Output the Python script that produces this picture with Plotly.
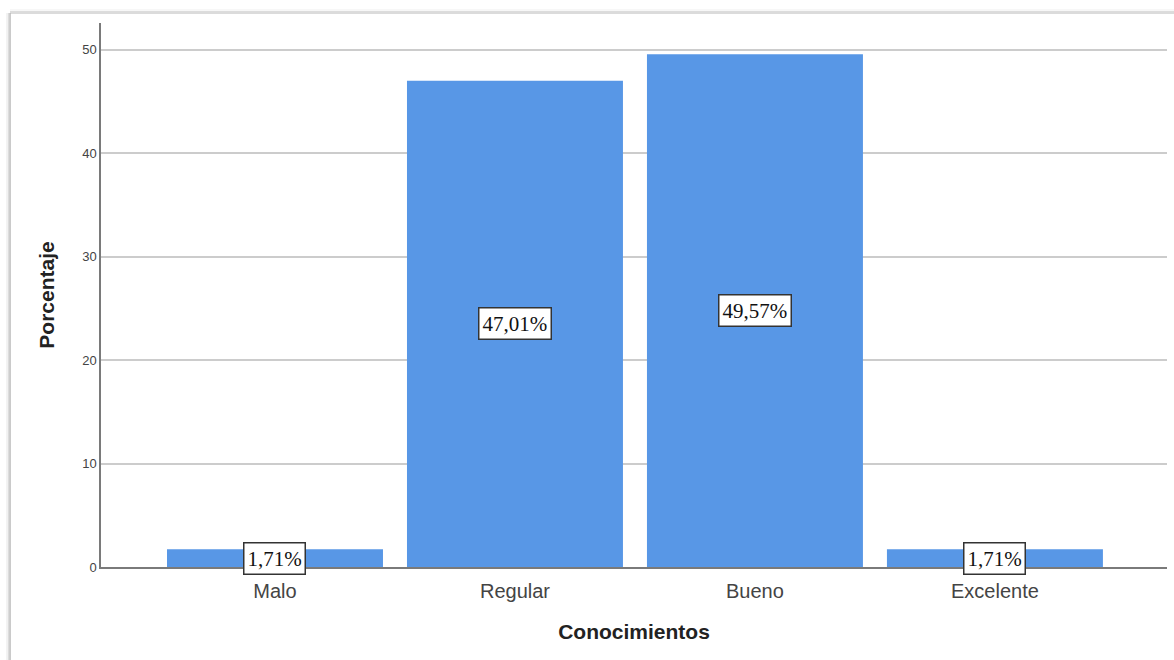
import plotly.graph_objects as go

categorias = ["Malo", "Regular", "Bueno", "Excelente"]
porcentajes = [1.71, 47.01, 49.57, 1.71]
etiquetas = ["1,71%", "47,01%", "49,57%", "1,71%"]
ticks_y = [0, 10, 20, 30, 40, 50]

W, H = 1174, 660
L, R, T, B = 101, 7, 23, 93

fig = go.Figure()
fig.add_trace(go.Bar(
    x=list(range(len(categorias))),
    y=porcentajes,
    width=0.9,
    marker=dict(color="#5897E6", line=dict(width=0)),
    hoverinfo="skip",
))

# value labels centred on each bar, boxed like the SPSS output
for i, (v, t) in enumerate(zip(porcentajes, etiquetas)):
    fig.add_annotation(
        x=i, y=v / 2, text=t, showarrow=False,
        font=dict(family="Liberation Serif", size=21, color="#111111"),
        bgcolor="white", bordercolor="#333333", borderwidth=1.5, borderpad=3,
    )

# outer frame with a soft shadow on the left and top edges
pw = W - L - R
ph = H - T - B
def px_to_paper_x(px):
    return (px - L) / pw
def px_to_paper_y(py):
    return (H - B - py) / ph

for off, col in [(0, "#b8b8b8"), (1.5, "#dcdcdc"), (3, "#efefef")]:
    fig.add_shape(type="line", xref="paper", yref="paper",
                  x0=px_to_paper_x(10 - off), x1=px_to_paper_x(10 - off),
                  y0=px_to_paper_y(13), y1=px_to_paper_y(H + 5),
                  line=dict(color=col, width=1.5), layer="below")
    fig.add_shape(type="line", xref="paper", yref="paper",
                  x0=px_to_paper_x(10), x1=px_to_paper_x(W + 5),
                  y0=px_to_paper_y(13 - off), y1=px_to_paper_y(13 - off),
                  line=dict(color=col, width=1.2), layer="below")

fig.update_layout(
    width=W, height=H,
    margin=dict(l=L, r=R, t=T, b=B),
    paper_bgcolor="white", plot_bgcolor="white",
    showlegend=False,
    bargap=0.1,
    xaxis=dict(
        tickmode="array",
        tickvals=list(range(len(categorias))),
        ticktext=categorias,
        range=[-0.725, 3.717],
        showgrid=False, zeroline=False,
        showline=True, linecolor="#7a7a7a", linewidth=1.5,
        ticks="", ticklen=0,
        ticklabelstandoff=5,
        tickfont=dict(family="Liberation Sans", size=20, color="#444444"),
        title=dict(text="<b>Conocimientos</b>", standoff=24,
                   font=dict(family="Liberation Sans", size=21, color="#222222")),
    ),
    yaxis=dict(
        range=[0, 52.6],
        tickmode="array", tickvals=ticks_y,
        showgrid=True, gridcolor="#cccccc", gridwidth=1.5,
        zeroline=False,
        showline=True, linecolor="#7a7a7a", linewidth=1.5,
        ticks="", ticklen=0,
        tickfont=dict(family="Liberation Sans", size=13, color="#444444"),
        title=dict(text="<b>Porcentaje</b>", standoff=22,
                   font=dict(family="Liberation Sans", size=21, color="#222222")),
    ),
)

fig.write_html("out.html")
